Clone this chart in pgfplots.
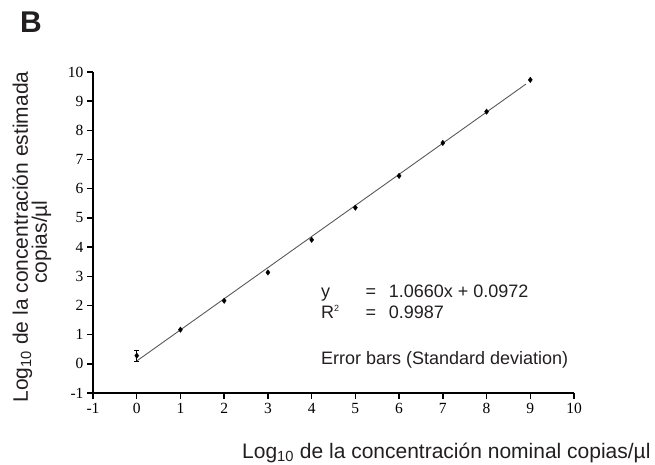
\documentclass[border=0pt]{standalone}
\usepackage{pgfplots}
\pgfplotsset{compat=1.18}
\usepackage{fontspec}
\setmainfont{Liberation Sans}
\newfontfamily\tickfont{Liberation Serif}
\definecolor{txt}{HTML}{231F20}
\begin{document}
\begin{tikzpicture}
\path[use as bounding box] (-93pt,-72pt) rectangle (562pt,393pt);
\begin{axis}[
  at={(0pt,0pt)}, anchor=south west,
  width=481pt, height=321pt, scale only axis,
  xmin=-1, xmax=10, ymin=-1, ymax=10,
  axis lines=left,
  axis line style={-, line width=1.9pt, black},
  xtick={-1,0,...,10}, ytick={-1,0,...,10},
  tick align=outside, major tick length=6pt,
  tick style={line width=1.5pt, black},
  ticklabel style={font=\tickfont\fontsize{15.5}{15.5}\selectfont, text=black},
  xticklabel style={yshift=-1pt},
  /pgf/number format/assume math mode=true,
  clip=false,
]
\addplot[color=black!65, line width=0.9pt, no marks] coordinates {(0,0.0972) (8.9,9.585)};
\addplot[only marks, mark=diamond*, mark size=2.7pt, black,
  error bars/.cd, y dir=both, y explicit,
  error bar style={line width=0.9pt, black},
  error mark options={rotate=90, mark size=2.7pt, line width=0.9pt, black}]
  coordinates {(0,0.28) +- (0,0.19)};
\addplot[only marks, mark=diamond*, mark size=2.7pt, black]
  coordinates {(1,1.17) (2,2.16) (3,3.13) (4,4.25) (5,5.35) (6,6.44) (7,7.57) (8,8.64) (9,9.73)};
\node[anchor=base west, inner sep=0, font=\fontsize{18}{18}\selectfont, text=txt] at (axis cs:4.21,2.26) {y};
\node[anchor=base west, inner sep=0, font=\fontsize{18}{18}\selectfont, text=txt] at (axis cs:5.23,2.26) {=};
\node[anchor=base west, inner sep=0, font=\fontsize{18}{18}\selectfont, text=txt] at (axis cs:5.76,2.26) {1.0660x + 0.0972};
\node[anchor=base west, inner sep=0, font=\fontsize{18}{18}\selectfont, text=txt] at (axis cs:4.21,1.56) {R\raisebox{0.75ex}{\fontsize{9}{9}\selectfont 2}};
\node[anchor=base west, inner sep=0, font=\fontsize{18}{18}\selectfont, text=txt] at (axis cs:5.23,1.56) {=};
\node[anchor=base west, inner sep=0, font=\fontsize{18}{18}\selectfont, text=txt] at (axis cs:5.76,1.56) {0.9987};
\node[anchor=base west, inner sep=0, font=\fontsize{18}{18}\selectfont, text=txt] at (axis cs:4.21,-0.03) {Error bars (Standard deviation)};
\end{axis}
\node[anchor=base west, inner sep=0, font=\fontsize{21}{21}\selectfont, text=txt] at (149pt,-65pt) {Log\textsubscript{10} de la concentración nominal copias/µl};
\node[rotate=90, anchor=base, inner sep=0, font=\fontsize{21}{21}\selectfont, text=txt] at (-65pt,156pt) {Log\textsubscript{10} de la concentración estimada};
\node[rotate=90, anchor=base, inner sep=0, font=\fontsize{21}{21}\selectfont, text=txt] at (-46pt,151pt) {copias/µl};
\node[anchor=base west, inner sep=0, font=\fontsize{30}{30}\selectfont\bfseries, text=txt] at (-73pt,360pt) {B};
\end{tikzpicture}
\end{document}
